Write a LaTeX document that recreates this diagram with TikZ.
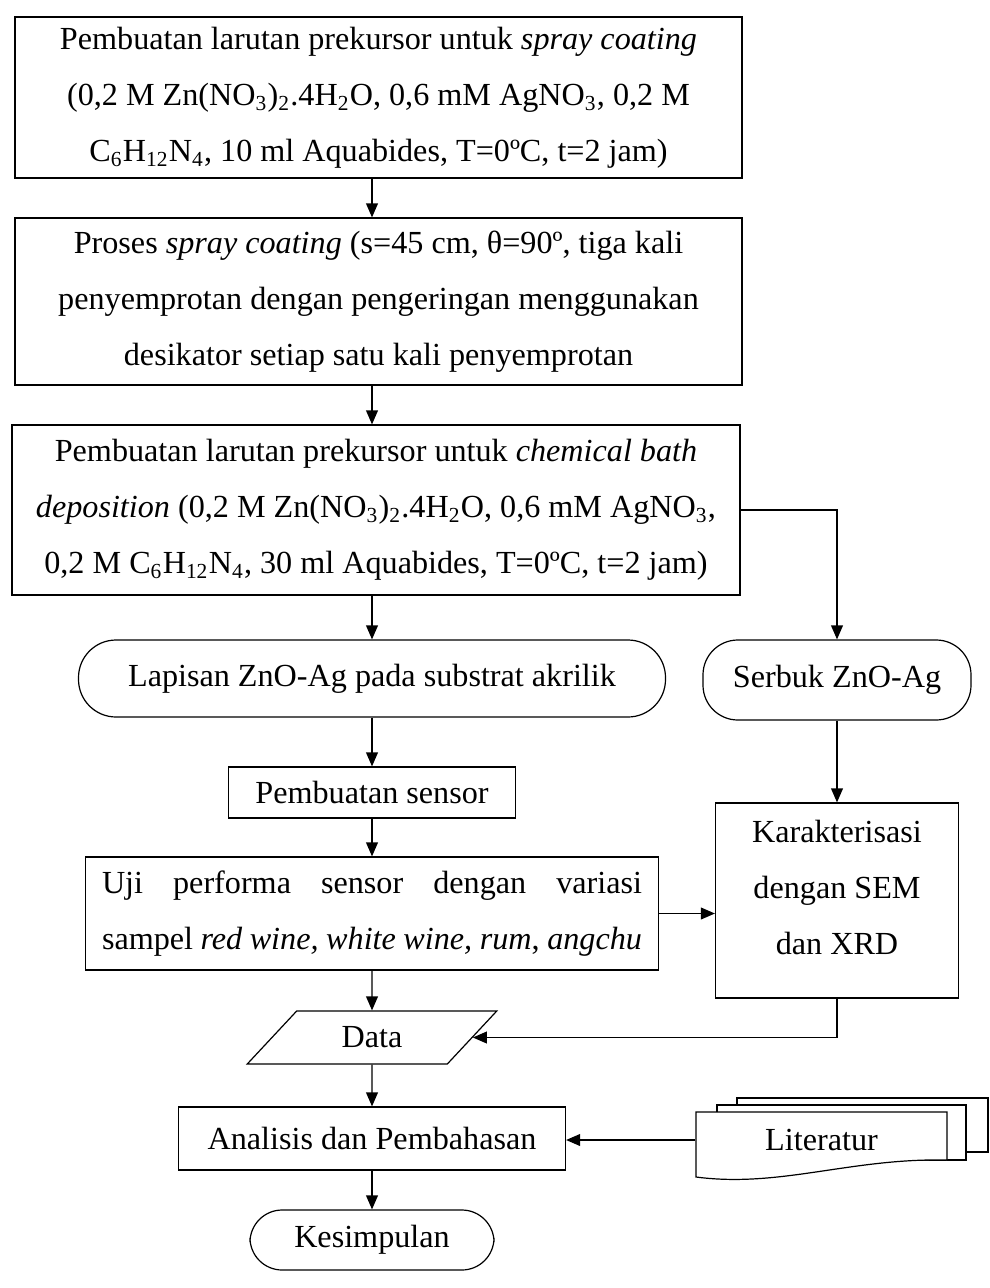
\documentclass[tikz,border=0pt]{standalone}
\usepackage{fontspec}
\setmainfont{Liberation Serif}
\usetikzlibrary{arrows.meta,shapes.geometric}
\newcommand{\unitpx}{0.373pt}

\begin{document}
\begin{tikzpicture}[x=\unitpx,y=-\unitpx,>={Triangle[length=5.2pt,width=4.4pt]},
font=\fontsize{12}{20.9}\selectfont,line width=0.45pt,
procbox/.style={draw,rectangle,align=center,inner sep=0pt},
endbox/.style={draw,rectangle,rounded corners=#1,align=center,inner sep=0pt}]
\useasboundingbox (0,0) rectangle (990,1288);
% main column
\node[procbox,minimum width=727*\unitpx,minimum height=161*\unitpx,text depth=2.5pt] (prek1) at (378.5,97.5)
  {Pembuatan larutan prekursor untuk \textit{spray coating}\\
   (0,2 M Zn(NO\textsubscript{3})\textsubscript{2}.4H\textsubscript{2}O, 0,6 mM AgNO\textsubscript{3}, 0,2 M\\
   C\textsubscript{6}H\textsubscript{12}N\textsubscript{4}, 10 ml Aquabides, T=0ºC, t=2 jam)};
\node[procbox,minimum width=727*\unitpx,minimum height=167*\unitpx] (proses) at (378.5,301.5)
  {Proses \textit{spray coating} (s=45 cm, θ=90º, tiga kali\\
   penyemprotan dengan pengeringan menggunakan\\
   desikator setiap satu kali penyemprotan};
\node[procbox,minimum width=728*\unitpx,minimum height=170*\unitpx] (prek2) at (376,510)
  {Pembuatan larutan prekursor untuk \textit{chemical bath}\\
   \textit{deposition} (0,2 M Zn(NO\textsubscript{3})\textsubscript{2}.4H\textsubscript{2}O, 0,6 mM AgNO\textsubscript{3},\\
   0,2 M C\textsubscript{6}H\textsubscript{12}N\textsubscript{4}, 30 ml Aquabides, T=0ºC, t=2 jam)};
\node[endbox=14pt,minimum width=587*\unitpx,minimum height=77*\unitpx] (lapisan) at (372,678.5)
  {Lapisan ZnO-Ag pada substrat akrilik};
\node[procbox,minimum width=287*\unitpx,minimum height=51*\unitpx] (sensor) at (372,792.5)
  {Pembuatan sensor};
\node[draw,rectangle,align=justify,text width=540*\unitpx,inner xsep=16.5*\unitpx,inner ysep=0pt,
  minimum height=113*\unitpx] (uji) at (372,913.5)
  {Uji performa sensor dengan variasi\linebreak sampel \textit{red wine, white wine, rum}, \textit{angchu}};
\node[draw,trapezium,trapezium left angle=47,trapezium right angle=133,trapezium stretches=true,
  minimum width=250*\unitpx,minimum height=53*\unitpx,inner sep=0pt] (data) at (372,1037.5) {Data};
\node[procbox,minimum width=387*\unitpx,minimum height=63*\unitpx] (analisis) at (372,1138.5)
  {Analisis dan Pembahasan};
\node[endbox=12pt,minimum width=244*\unitpx,minimum height=60*\unitpx] (simpul) at (372,1240)
  {Kesimpulan};
% right column
\node[endbox=13pt,minimum width=268*\unitpx,minimum height=80*\unitpx] (serbuk) at (837,680)
  {Serbuk ZnO-Ag};
\node[procbox,minimum width=243*\unitpx,minimum height=195*\unitpx,text depth=9.7pt] (karak) at (837,900.5)
  {Karakterisasi\\dengan SEM\\dan XRD};
% literatur stack
\draw[fill=white] (737,1098) rectangle (988,1152);
\draw[fill=white] (717,1105) rectangle (966,1160);
\draw[fill=white] (696,1112) -- (947,1112) -- (947,1160)
  .. controls (850,1158) and (780,1188) .. (696,1177) -- cycle;
\node[minimum width=251*\unitpx,minimum height=40*\unitpx,inner sep=0pt] (lit) at (821.5,1140) {Literatur};
% connectors
\draw[->] (prek1.south -| sensor) -- (proses.north -| sensor);
\draw[->] (proses.south -| sensor) -- (prek2.north -| sensor);
\draw[->] (prek2.south -| sensor) -- (lapisan.north -| sensor);
\draw[->] (prek2.east) -| (serbuk.north);
\draw[->] (lapisan) -- (sensor);
\draw[->] (sensor) -- (uji);
\draw[->] (serbuk) -- (karak);
\draw[->] (uji.east) -- (uji.east -| karak.west);
\draw[->] (uji) -- (data);
\draw[->] (karak.south) |- (data.east);
\draw[->] (data) -- (analisis);
\draw[->] (lit.west) -- (lit.west -| analisis.east);
\draw[->] (analisis) -- (simpul);
\end{tikzpicture}
\end{document}
